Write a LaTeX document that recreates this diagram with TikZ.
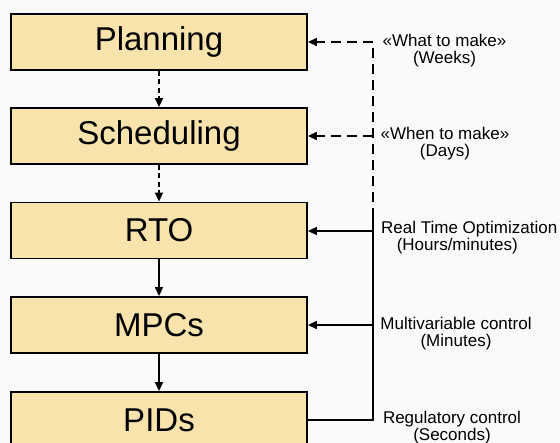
\documentclass[tikz,border=0pt]{standalone}
\usepackage{fontspec}
\setmainfont{Liberation Sans}
\usetikzlibrary{arrows.meta}
\definecolor{boxfill}{RGB}{249,227,172}
\definecolor{bgc}{RGB}{250,250,250}
\begin{document}
\begin{tikzpicture}[x=1pt,y=-1pt,
  level/.style={draw=black,line width=1.8pt,fill=boxfill,minimum width=296pt,minimum height=56pt,inner sep=0pt,font=\fontsize{33}{33}\selectfont},
  lbl/.style={align=center,inner sep=0pt,font=\fontsize{17}{17}\selectfont},
  conn/.style={line width=1.6pt},
  arr/.style={-{Triangle[length=9pt,width=8pt]}},
  dshs/.style={dash pattern=on 5pt off 3.5pt},
  dshl/.style={dash pattern=on 10pt off 6pt}]
\fill[bgc] (0,0) rectangle (560,443);
\useasboundingbox (0,0) rectangle (560,443);
\node[level] (plan) at (159,42) {Planning};
\node[level] (sched) at (159,136) {Scheduling};
\node[level] (rto) at (159,230.5) {RTO};
\node[level] (mpc) at (159,325) {MPCs};
\node[level] (pid) at (159,420) {PIDs};
\draw[conn,dshs,arr] (plan) -- (sched);
\draw[conn,dshs,arr] (sched) -- (rto);
\draw[conn,arr] (rto) -- (mpc);
\draw[conn,arr] (mpc) -- (pid);
\coordinate (v1) at (373,42);
\coordinate (v2) at (373,136);
\coordinate (vj) at (373,218);
\coordinate (v3) at (373,231);
\coordinate (v4) at (373,325);
\coordinate (v5) at (373,420);
\draw[conn,dshl,arr] (vj) -- (v1) -- (plan.east);
\draw[conn,dshl,arr] (v2) -- (sched.east);
\draw[conn] (vj) -- (v5) -- (pid.east |- v5);
\draw[conn,arr] (v3) -- (rto.east |- v3);
\draw[conn,arr] (v4) -- (mpc.east);
\node[lbl] (l1) at (444.5,50.5) {«What to make»\\(Weeks)};
\node[lbl] (l2) at (445,144) {«When to make»\\(Days)};
\node[lbl,anchor=north west] (l3) at (381,221) {Real Time Optimization\\\hspace*{-24pt}(Hours/minutes)};
\node[lbl] (l4) at (456,333.5) {Multivariable control\\(Minutes)};
\node[lbl] (l5) at (452,428) {Regulatory control\\(Seconds)};
\end{tikzpicture}
\end{document}
